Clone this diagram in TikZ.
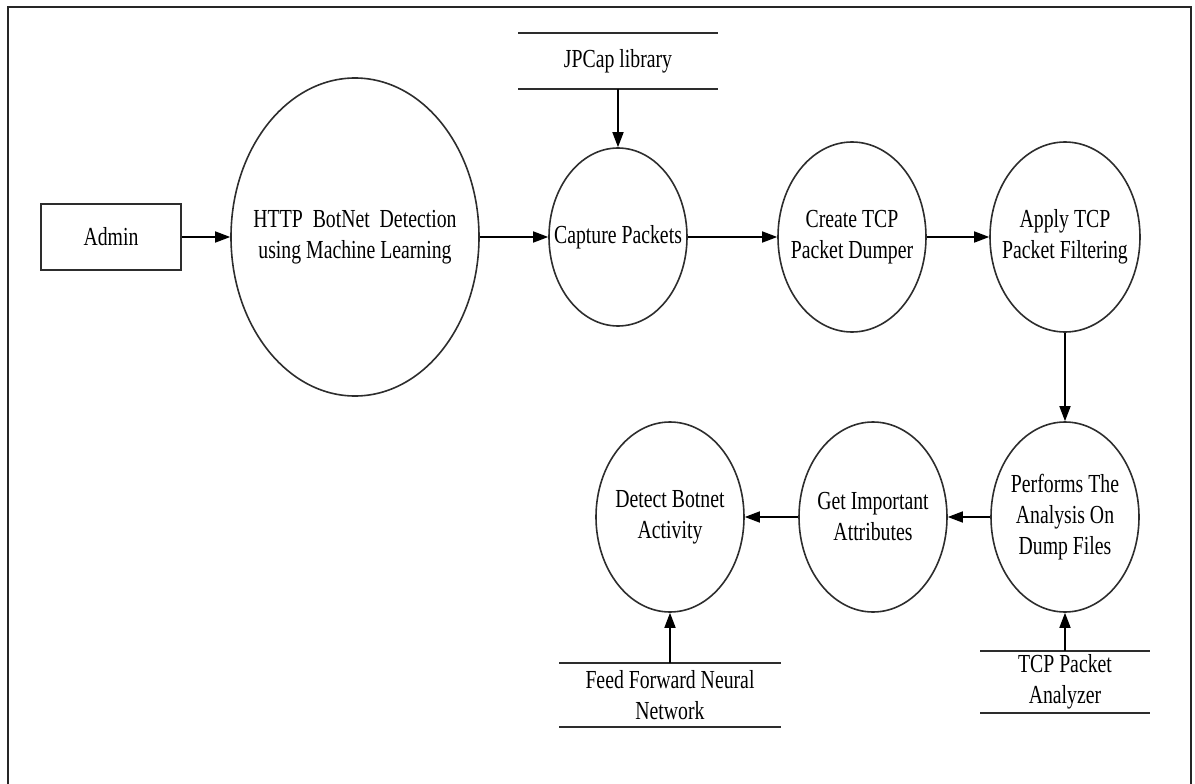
\documentclass[tikz,border=0pt]{standalone}
\usepackage{fontspec}
\setmainfont{Liberation Serif}[FakeStretch=0.76]
\usepackage{tikz}
\usetikzlibrary{shapes.geometric,arrows.meta}
\definecolor{lineGrey}{RGB}{45,45,45}
\tikzset{
  proc/.style={ellipse,draw=lineGrey,line width=1.6pt,inner xsep=-24pt,inner ysep=0pt,align=center,minimum width=148pt,minimum height=190pt},
  entitybox/.style={rectangle,draw=lineGrey,line width=1.6pt,minimum width=140pt,minimum height=66pt},
  store/.style={inner sep=0pt,align=center},
  flow/.style={draw=black,line width=1.6pt,-{Triangle[length=15pt,width=11pt]}}
}
\newcommand{\storelines}[1]{\draw[lineGrey,line width=1.8pt] (#1.north west) -- (#1.north east) (#1.south west) -- (#1.south east);}

\begin{document}
\begin{tikzpicture}[x=1pt,y=-1pt,every node/.style={font=\fontsize{26}{31}\selectfont}]
\useasboundingbox (0,0) rectangle (1195,784);
\draw[black!85,line width=2.2pt] (8,784) -- (8,7) -- (1191,7) -- (1191,784);
% top row
\node[entitybox] (admin) at (111,237) {Admin};
\node[proc,minimum width=248pt,minimum height=318pt] (http) at (355,237) {HTTP\ \ BotNet\ \ Detection\\using Machine Learning};
\node[proc,minimum width=138pt,minimum height=178pt] (capture) at (618,237) {Capture Packets};
\node[proc] (dumper) at (852,237) {Create TCP\\Packet Dumper};
\node[proc,minimum width=150pt] (filter) at (1065,237) {Apply TCP\\Packet Filtering};
% bottom row
\node[proc] (analysis) at (1065,517) {Performs The\\Analysis On\\Dump Files};
\node[proc] (attrib) at (873,517) {Get Important\\Attributes};
\node[proc] (detect) at (670,517) {Detect Botnet\\Activity};
% data stores
\node[store,minimum width=199pt,minimum height=55pt] (jpcap) at (618,61) {JPCap library};
\node[store,minimum width=221pt,minimum height=63pt] (ffnn) at (670,695) {Feed Forward Neural\\Network};
\node[store,minimum width=169pt,minimum height=62pt] (tcpan) at (1065,682) {TCP Packet\\Analyzer};
\storelines{jpcap}
\storelines{ffnn}
\storelines{tcpan}
% flows
\draw[flow] (admin) -- (http);
\draw[flow] (http) -- (capture);
\draw[flow] (capture) -- (dumper);
\draw[flow] (dumper) -- (filter);
\draw[flow] (filter) -- (analysis);
\draw[flow] (analysis) -- (attrib);
\draw[flow] (attrib) -- (detect);
\draw[flow] (jpcap.south) -- (capture.north);
\draw[flow] (ffnn.north) -- (detect.south);
\draw[flow] (tcpan.north) -- (analysis.south);
\end{tikzpicture}
\end{document}
